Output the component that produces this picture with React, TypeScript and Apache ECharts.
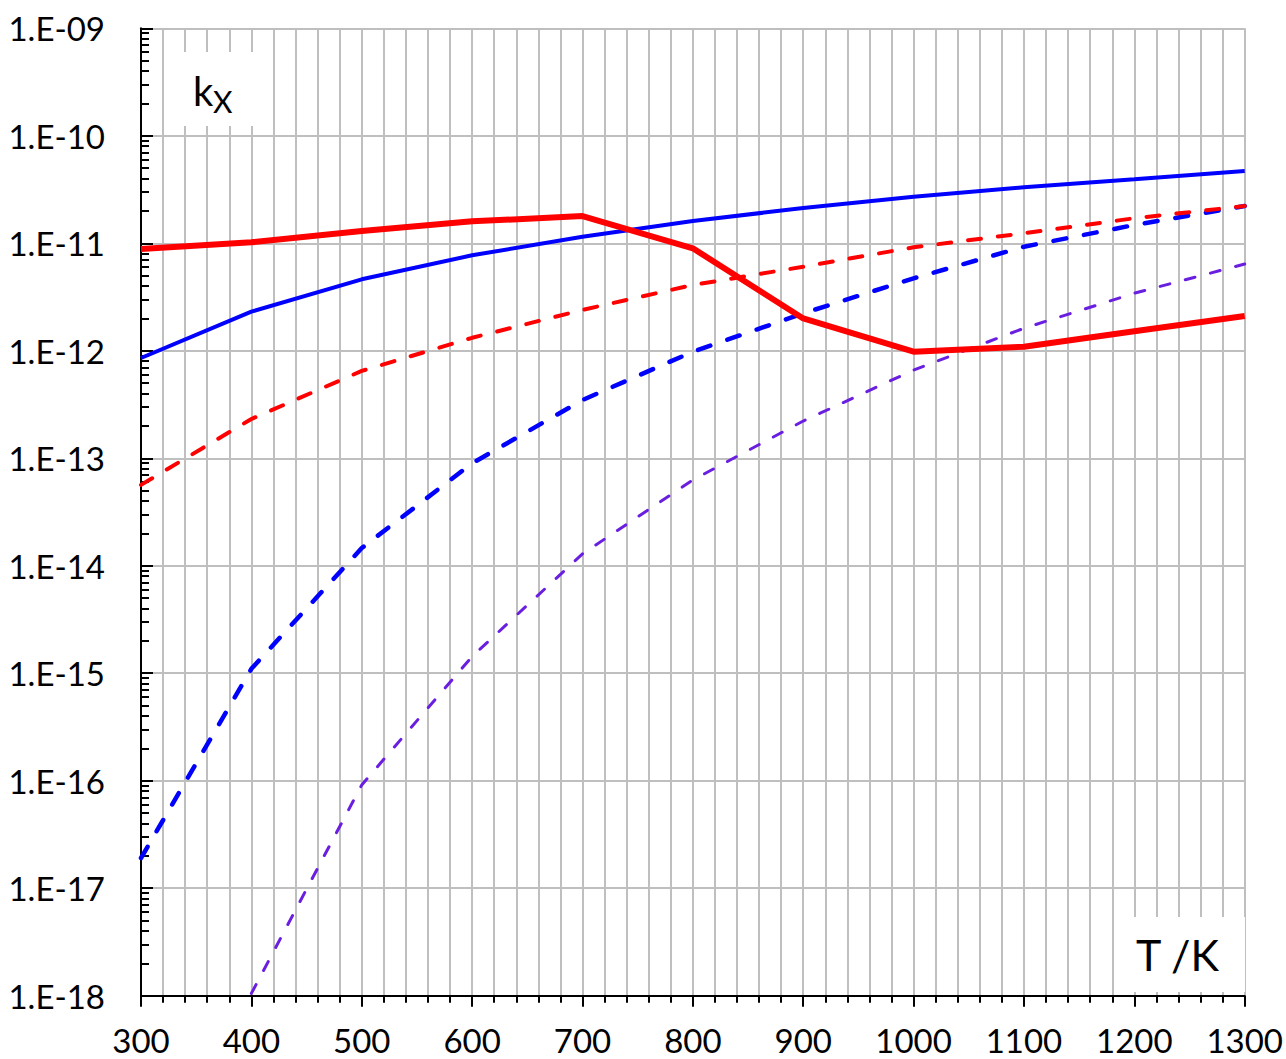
import React, { useEffect, useRef } from "react";
import * as echarts from "echarts";

const temperatures = [300, 400, 500, 600, 700, 800, 900, 1000, 1100, 1200, 1300];
const redSolid = [8.85e-12, 1.02e-11, 1.3e-11, 1.6e-11, 1.79e-11, 8.98e-12, 2.0e-12, 9.8e-13, 1.09e-12, 1.52e-12, 2.11e-12];
const blueSolid = [8.57e-13, 2.31e-12, 4.62e-12, 7.73e-12, 1.15e-11, 1.61e-11, 2.13e-11, 2.71e-11, 3.32e-11, 3.94e-11, 4.71e-11];
const redDashed = [5.65e-14, 2.32e-13, 6.49e-13, 1.32e-12, 2.4e-12, 4.09e-12, 6.05e-12, 9.18e-12, 1.24e-11, 1.71e-11, 2.22e-11];
const blueDashed = [1.91e-17, 1.1e-15, 1.46e-14, 8.98e-14, 3.48e-13, 9.8e-13, 2.23e-12, 4.72e-12, 9.29e-12, 1.48e-11, 2.22e-11];
const purpleDashed = [null, 1.05e-18, 9.14e-17, 1.43e-15, 1.29e-14, 6.28e-14, 2.22e-13, 6.62e-13, 1.62e-12, 3.43e-12, 6.41e-12];

const xMin = 300;
const xMax = 1300;
const xStep = 100;
const yMin = 1e-18;
const yMax = 1e-9;

const FONT = "Lato, Carlito, 'Open Sans', sans-serif";

function pairs(vals: (number | null)[]) {
  const out: [number, number][] = [];
  vals.forEach((v, i) => {
    if (v !== null) out.push([temperatures[i], v]);
  });
  return out;
}

function fmtExp(v: number) {
  const e = Math.round(Math.log10(v));
  const sign = e < 0 ? "-" : "+";
  return "1.E" + sign + String(Math.abs(e)).padStart(2, "0");
}

export default function App() {
  const ref = useRef<HTMLDivElement>(null);
  useEffect(() => {
    if (!ref.current) return;
    const chart = echarts.init(ref.current, null, { renderer: "svg" });
    const grey = "#bfbfbf";
    chart.setOption({
      animation: false,
      backgroundColor: "#ffffff",
      grid: { left: 141, right: 41.3, top: 28.3, bottom: 63.3, containLabel: false },
      xAxis: {
        type: "value",
        min: xMin,
        max: xMax,
        interval: xStep,
        axisLine: { onZero: false, lineStyle: { color: "#000", width: 2 } },
        axisTick: { show: true, length: 11, lineStyle: { color: "#000", width: 2 } },
        minorTick: { show: true, splitNumber: 5, length: 7, lineStyle: { color: "#000", width: 2 } },
        splitLine: { show: true, lineStyle: { color: grey, width: 2 } },
        minorSplitLine: { show: true, lineStyle: { color: grey, width: 2 } },
        axisLabel: {
          fontSize: 33,
          fontFamily: FONT,
          color: "#000",
          margin: 28,
          formatter: (v: number) => String(v),
        },
      },
      yAxis: {
        type: "log",
        logBase: 10,
        min: yMin,
        max: yMax,
        interval: 1,
        axisLine: { onZero: false, lineStyle: { color: "#000", width: 2 } },
        axisTick: { show: true, inside: true, length: 12, lineStyle: { color: "#000", width: 2 } },
        minorTick: { show: true, splitNumber: 9, length: 8, lineStyle: { color: "#000", width: 2 } },
        splitLine: { show: true, lineStyle: { color: grey, width: 2 } },
        minorSplitLine: { show: false },
        axisLabel: {
          fontSize: 33,
          fontFamily: FONT,
          color: "#000",
          margin: 36,
          formatter: (v: number) => fmtExp(v),
        },
      },
      graphic: [
        { type: "rect", z: 100, shape: { x: 183, y: 52, width: 70, height: 74 }, style: { fill: "#fff" } },
        { type: "text", z: 101, x: 193, y: 91, style: { text: "k", font: `40px ${FONT}`, fill: "#000", textAlign: "left", textVerticalAlign: "middle" } },
        { type: "text", z: 101, x: 213, y: 101, style: { text: "X", font: `30px ${FONT}`, fill: "#000", textAlign: "left", textVerticalAlign: "middle" } },
        { type: "rect", z: 100, shape: { x: 1133, y: 917, width: 112, height: 75 }, style: { fill: "#fff" } },
        { type: "text", z: 101, x: 1136, y: 954, style: { text: "T /K", font: `43px ${FONT}`, fill: "#000", textAlign: "left", textVerticalAlign: "middle" } },
      ],
      series: [
        {
          type: "line", data: pairs(purpleDashed), symbol: "none", z: 2,
          lineStyle: { color: "#6a1ee0", width: 3, type: [10, 16], cap: "round" },
        },
        {
          type: "line", data: pairs(blueDashed), symbol: "none", z: 3,
          lineStyle: { color: "#0000ff", width: 4.5, type: [13, 18], cap: "round" },
        },
        {
          type: "line", data: pairs(redDashed), symbol: "none", z: 3,
          lineStyle: { color: "#ff0000", width: 4, type: [13, 17], cap: "round" },
        },
        {
          type: "line", data: pairs(blueSolid), symbol: "none", z: 4,
          lineStyle: { color: "#0000ff", width: 4 },
        },
        {
          type: "line", data: pairs(redSolid), symbol: "none", z: 5,
          lineStyle: { color: "#ff0000", width: 6 },
        },
      ],
    });
    return () => chart.dispose();
  }, []);
  return (
    <div
      ref={ref}
      style={{ position: "absolute", left: 0, top: 0, width: 1286, height: 1059, background: "#fff" }}
    />
  );
}
